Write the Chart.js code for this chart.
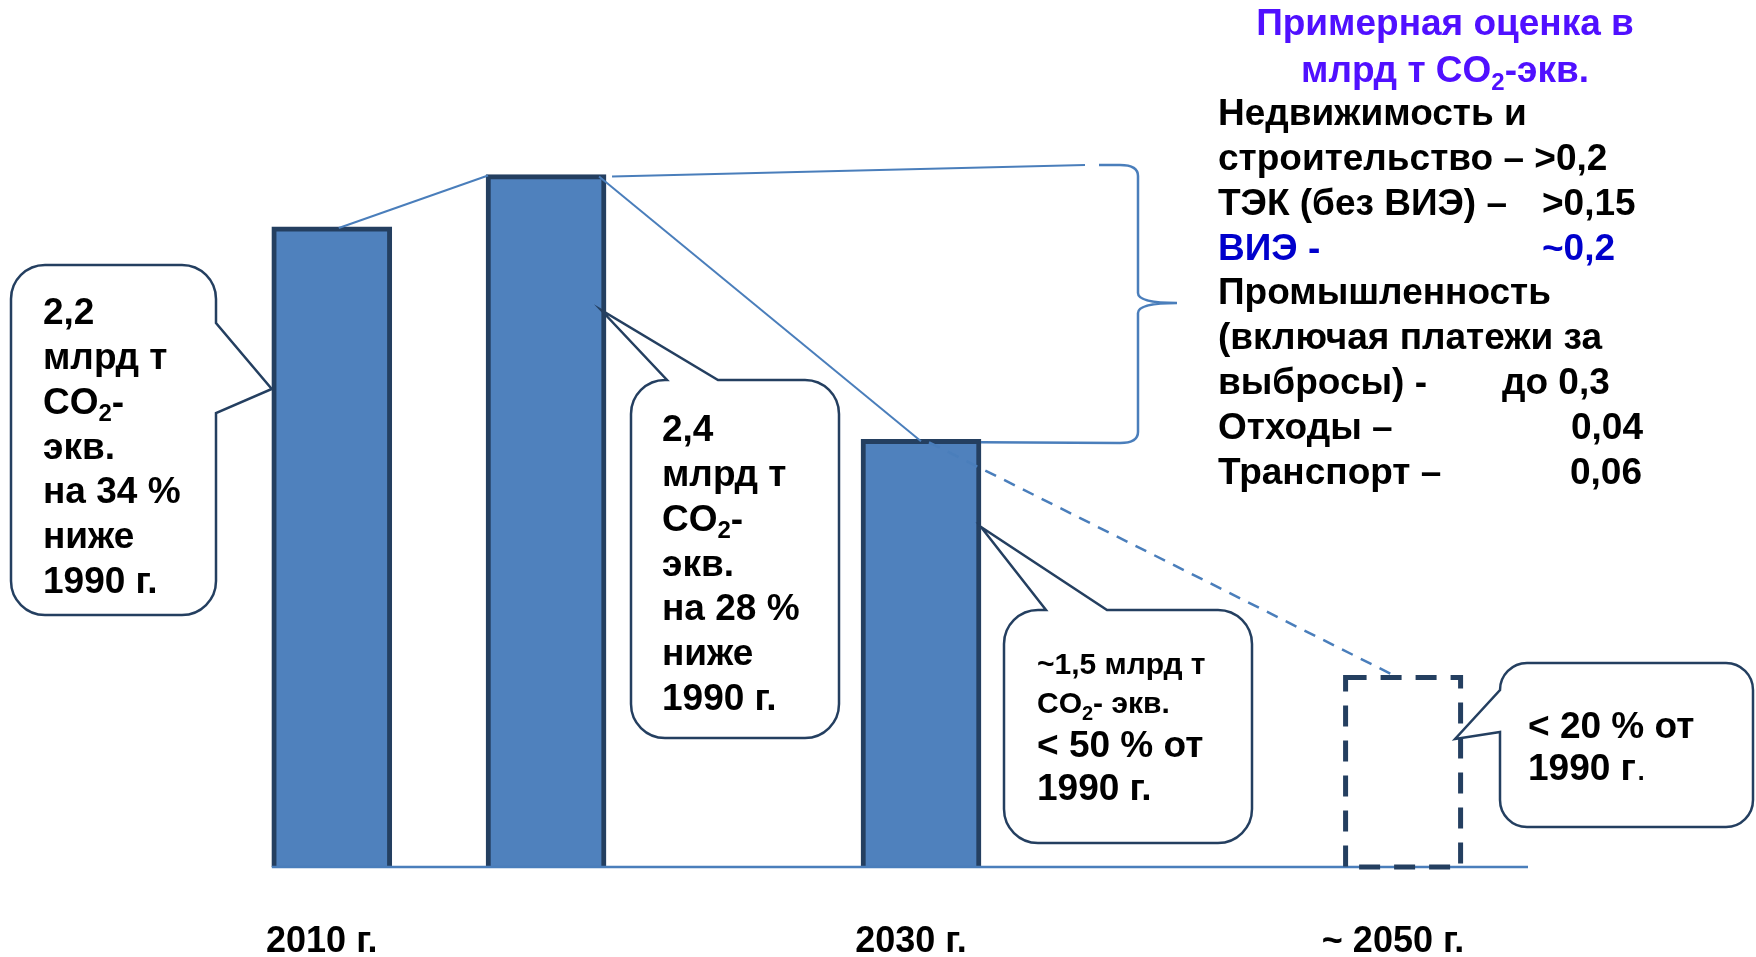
<!DOCTYPE html>
<html>
<head>
<meta charset="utf-8">
<script src="https://cdn.jsdelivr.net/npm/chart.js@4.4.0/dist/chart.umd.min.js"></script>
<style>
  body { margin: 0; background: #ffffff; }
  #wrap { width: 1756px; height: 957px; position: relative; }
</style>
</head>
<body>
<div id="wrap"><canvas id="emissionsChart"></canvas></div>
<script>
// data (млрд т CO2-экв.)
var years = ['2010 г.', '', '2030 г.', '~ 2050 г.'];
var emissions = [2.2, 2.38, 1.47, 0.66];

var notes2010 = ['2,2', 'млрд т', 'CO₂-', 'экв.', 'на 34 %', 'ниже', '1990 г.'];
var notes2020 = ['2,4', 'млрд т', 'CO₂-', 'экв.', 'на 28 %', 'ниже', '1990 г.'];
var notes2030 = ['~1,5 млрд т', 'CO₂- экв.', '< 50 % от', '1990 г.'];
var notes2050 = ['< 20 % от', '1990 г'];

var panelTitle = ['Примерная оценка в', 'млрд т CO₂-экв.'];
var sectorLabels = ['Недвижимость и', 'строительство – >0,2', 'ТЭК (без ВИЭ) –', 'ВИЭ -', 'Промышленность',
                    '(включая платежи за', 'выбросы) -', 'Отходы –', 'Транспорт –'];
var sectorValues = ['', '', '>0,15', '~0,2', '', '', 'до 0,3', '0,04', '0,06'];

// layout: bars sit on uneven slots of a category axis
var SLOT = [0, 4, 11, 20];
var N_SLOTS = 23;
var valueX = [0, 0, 1542, 1542, 0, 0, 1502, 1571, 1570];

var FONT = '"Liberation Sans", Arial, sans-serif';
var NAVY = '#243f60';
var LINE = '#4a7ebb';

function richText(ctx, str, x, y, size, color, measureOnly) {
    var parts = str.split('₂');
    var cx = x;
    ctx.fillStyle = color;
    ctx.textBaseline = 'middle';
    ctx.textAlign = 'left';
    for (var i = 0; i < parts.length; i++) {
        ctx.font = 'bold ' + size + 'px ' + FONT;
        if (!measureOnly) ctx.fillText(parts[i], cx, y);
        cx += ctx.measureText(parts[i]).width;
        if (i < parts.length - 1) {
            ctx.font = 'bold ' + Math.round(size * 0.65) + 'px ' + FONT;
            if (!measureOnly) ctx.fillText('2', cx, y + size * 0.3);
            cx += ctx.measureText('2').width;
        }
    }
    return cx - x;
}

function callout(ctx, b, tail) {
    var r = b.rad;
    ctx.beginPath();
    ctx.moveTo(b.l + r, b.t);
    if (tail.side === 'top') {
        ctx.lineTo(tail.a, b.t); ctx.lineTo(tail.x, tail.y); ctx.lineTo(tail.c, b.t);
    }
    ctx.lineTo(b.r - r, b.t);
    ctx.arcTo(b.r, b.t, b.r, b.t + r, r);
    if (tail.side === 'right') {
        ctx.lineTo(b.r, tail.a); ctx.lineTo(tail.x, tail.y); ctx.lineTo(b.r, tail.c);
    }
    ctx.lineTo(b.r, b.b - r);
    ctx.arcTo(b.r, b.b, b.r - r, b.b, r);
    ctx.lineTo(b.l + r, b.b);
    ctx.arcTo(b.l, b.b, b.l, b.b - r, r);
    if (tail.side === 'left') {
        ctx.lineTo(b.l, tail.c); ctx.lineTo(tail.x, tail.y); ctx.lineTo(b.l, tail.a);
    }
    ctx.lineTo(b.l, b.t + r);
    ctx.arcTo(b.l, b.t, b.l + r, b.t, r);
    ctx.closePath();
    ctx.fillStyle = '#ffffff';
    ctx.fill();
    ctx.lineWidth = 2.5;
    ctx.strokeStyle = NAVY;
    ctx.stroke();
}

function line(ctx, x1, y1, x2, y2, width, dash) {
    ctx.beginPath();
    ctx.setLineDash(dash || []);
    ctx.lineWidth = width;
    ctx.strokeStyle = LINE;
    ctx.moveTo(x1, y1);
    ctx.lineTo(x2, y2);
    ctx.stroke();
    ctx.setLineDash([]);
}

var slideNotes = {
    id: 'slideNotes',
    afterDatasetsDraw: function (chart) {
        var ctx = chart.ctx;
        var meta = chart.getDatasetMeta(0);
        var bars = SLOT.map(function (s) { return meta.data[s]; });
        var w = bars[0].width;
        var base = chart.chartArea.bottom;
        ctx.save();

        // baseline
        line(ctx, bars[0].x - w / 2, base, chart.chartArea.right - 9, base, 2.5);

        // dashed 2050 box
        var b3 = bars[3];
        ctx.setLineDash([21, 14]);
        ctx.lineWidth = 5;
        ctx.strokeStyle = NAVY;
        ctx.strokeRect(b3.x - w / 2 + 2.5, b3.y + 2.5, w - 5, b3.base - b3.y - 2.5);
        ctx.setLineDash([]);

        // connectors between bar tops
        line(ctx, bars[0].x + 7, bars[0].y + 1, bars[1].x - w / 2 + 2, bars[1].y + 1, 2);
        line(ctx, bars[1].x + w / 2 + 6, bars[1].y + 2, 1085, 165, 2);
        line(ctx, bars[1].x + w / 2 - 7, bars[1].y + 2, bars[2].x, bars[2].y + 2, 2);
        line(ctx, bars[2].x + 8, bars[2].y + 3, b3.x - 10, b3.y, 2.5, [12, 9]);

        // brace
        ctx.beginPath();
        ctx.lineWidth = 2.5;
        ctx.strokeStyle = LINE;
        ctx.moveTo(1099, 165);
        ctx.lineTo(1120, 165);
        ctx.quadraticCurveTo(1138, 165, 1138, 176);
        ctx.lineTo(1138, 293);
        ctx.quadraticCurveTo(1138, 303, 1177, 303);
        ctx.quadraticCurveTo(1138, 303, 1138, 313);
        ctx.lineTo(1138, 432);
        ctx.quadraticCurveTo(1138, 443, 1120, 443);
        ctx.lineTo(bars[2].x + w / 2, bars[2].y + 3);
        ctx.stroke();

        // callouts
        callout(ctx, {l: 11, t: 265, r: 216, b: 615, rad: 34},
            {side: 'right', a: 323, c: 413, x: bars[0].x - w / 2, y: 389});
        callout(ctx, {l: 631, t: 380, r: 839, b: 738, rad: 34},
            {side: 'top', a: 667, c: 718, x: bars[1].x + w / 2 - 5, y: 310});
        callout(ctx, {l: 1004, t: 610, r: 1252, b: 843, rad: 34},
            {side: 'top', a: 1046, c: 1107, x: bars[2].x + w / 2, y: 527});
        callout(ctx, {l: 1500, t: 663, r: 1753, b: 827, rad: 27},
            {side: 'left', a: 690, c: 732, x: b3.x + w / 2 - 8, y: 739});

        notes2010.forEach(function (t, i) { richText(ctx, t, 43, 314 + i * 44.8, 37, '#000'); });
        notes2020.forEach(function (t, i) { richText(ctx, t, 662, 431 + i * 44.8, 37, '#000'); });
        var ys3 = [666, 705, 747, 790], sz3 = [30, 30, 37, 37];
        notes2030.forEach(function (t, i) { richText(ctx, t, 1037, ys3[i], sz3[i], '#000'); });
        notes2050.forEach(function (t, i) {
            var wd = richText(ctx, t, 1528, 728 + i * 42, 37, '#000');
            if (i === 1) {
                ctx.font = '37px ' + FONT;
                ctx.fillText('.', 1528 + wd, 770);
            }
        });

        // estimate panel
        panelTitle.forEach(function (t, i) {
            var tw = richText(ctx, t, 0, 0, 37, '#000', true);
            richText(ctx, t, 1445 - tw / 2, 25 + i * 47, 37, '#5010ff');
        });
        sectorLabels.forEach(function (t, i) {
            var col = i === 3 ? '#0000cc' : '#000000';
            var y = 115 + i * 44.8;
            richText(ctx, t, 1218, y, 37, col);
            if (sectorValues[i]) richText(ctx, sectorValues[i], valueX[i], y, 37, col);
        });
        ctx.restore();
    }
};

document.addEventListener('DOMContentLoaded', function () {
    var labels = [];
    var values = [];
    for (var i = 0; i < N_SLOTS; i++) { labels.push(''); values.push(null); }
    SLOT.forEach(function (s, k) { labels[s] = years[k]; values[s] = emissions[k]; });

    var target = SLOT[3];
    var ctx = document.getElementById('emissionsChart').getContext('2d');
    new Chart(ctx, {
        type: 'bar',
        data: {
            labels: labels,
            datasets: [{
                data: values,
                backgroundColor: function (c) { return c.dataIndex === target ? 'rgba(0,0,0,0)' : '#4f81bd'; },
                borderColor: NAVY,
                borderWidth: function (c) { return c.dataIndex === target ? 0 : 5; },
                barThickness: 120,
                clip: false
            }]
        },
        options: {
            events: [],
            responsive: true,
            maintainAspectRatio: false,
            animation: false,
            layout: { padding: { left: 305, right: 219, top: 0, bottom: -60 } },
            scales: {
                x: {
                    grid: { display: false, drawTicks: false },
                    border: { display: false },
                    ticks: {
                        autoSkip: false,
                        maxRotation: 0,
                        padding: 57,
                        labelOffset: -10,
                        color: '#000000',
                        font: { family: FONT, size: 36, weight: 'bold', lineHeight: 1 }
                    }
                },
                y: {
                    display: false,
                    min: 0,
                    max: 2.98
                }
            },
            plugins: {
                legend: { display: false },
                tooltip: { enabled: false }
            }
        },
        plugins: [slideNotes]
    });
});
</script>
</body>
</html>
